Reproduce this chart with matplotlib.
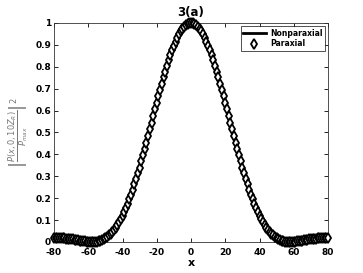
import numpy as np
import matplotlib
matplotlib.use("Agg")
import matplotlib.pyplot as plt

# intensity values for x = 0..80 (curve is symmetric)
right_vals = [1.0000, 0.9989, 0.9957, 0.9902, 0.9827, 0.9731, 0.9614, 0.9478, 0.9322, 0.9148,
              0.8957, 0.8750, 0.8528, 0.8292, 0.8043, 0.7782, 0.7512, 0.7232, 0.6945, 0.6652,
              0.6354, 0.6052, 0.5749, 0.5445, 0.5141, 0.4840, 0.4541, 0.4247, 0.3958, 0.3676,
              0.3400, 0.3133, 0.2875, 0.2628, 0.2390, 0.2163, 0.1947, 0.1745, 0.1553, 0.1373,
              0.1206, 0.1051, 0.0908, 0.0778, 0.0659, 0.0553, 0.0457, 0.0371, 0.0297, 0.0232,
              0.0177, 0.0130, 0.0092, 0.0061, 0.0038, 0.0020, 0.0009, 0.0002, 0.0000, 0.0002,
              0.0007, 0.0015, 0.0025, 0.0036, 0.0049, 0.0063, 0.0076, 0.0090, 0.0104, 0.0116,
              0.0128, 0.0139, 0.0149, 0.0157, 0.0164, 0.0168, 0.0172, 0.0174, 0.0175, 0.0174,
              0.0171]
x_vals = list(range(-80, 81))
nonparaxial = right_vals[:0:-1] + right_vals
paraxial = list(nonparaxial)

x_ticks = [-80, -60, -40, -20, 0, 20, 40, 60, 80]
y_ticks = [0, 0.1, 0.2, 0.3, 0.4, 0.5, 0.6, 0.7, 0.8, 0.9, 1]
y_tick_labels = ["0", "0.1", "0.2", "0.3", "0.4", "0.5", "0.6", "0.7", "0.8", "0.9", "1"]

fig = plt.figure(figsize=(3.63, 2.73), dpi=100)
ax = fig.add_axes([0.1488, 0.1136, 0.7548, 0.8022])

ax.plot(x_vals, nonparaxial, color="black", lw=2.0, label="Nonparaxial", clip_on=False, zorder=2)
ax.plot(x_vals, paraxial, linestyle="none", marker="d", markersize=4.6,
        markerfacecolor="white", markeredgecolor="black", markeredgewidth=1.3,
        label="Paraxial", clip_on=False, zorder=3)

ax.set_xlim(-80, 80)
ax.set_ylim(0, 1)
ax.set_xticks(x_ticks)
ax.set_xticklabels([str(t) for t in x_ticks])
ax.set_yticks(y_ticks)
ax.set_yticklabels(y_tick_labels)
ax.tick_params(direction="in", top=True, right=True, length=3, width=0.6,
               labelsize=6.5, pad=2)
ax.tick_params(axis="x", pad=4)
for lab in ax.get_xticklabels() + ax.get_yticklabels():
    lab.set_fontweight("bold")
for s in ax.spines.values():
    s.set_linewidth(0.6)
    s.set_color("#333333")

ax.set_title("3(a)", fontsize=8.5, fontweight="bold", pad=5)
ax.set_xlabel("x", fontsize=8, fontweight="bold", labelpad=1)
ax.set_ylabel(r"$\left|\frac{P(x,0,10Z_R)}{P_{max}}\right|^2$", fontsize=8.5,
              color="#777777", labelpad=4)

leg = ax.legend(loc="upper right", frameon=True, fancybox=False,
                edgecolor="black", borderpad=0.3, handlelength=3.0, handletextpad=0.5,
                labelspacing=0.2, borderaxespad=0.45, prop={"weight": "bold", "size": 5.5})
leg.get_frame().set_linewidth(0.6)

fig.savefig("out.png", dpi=100)
